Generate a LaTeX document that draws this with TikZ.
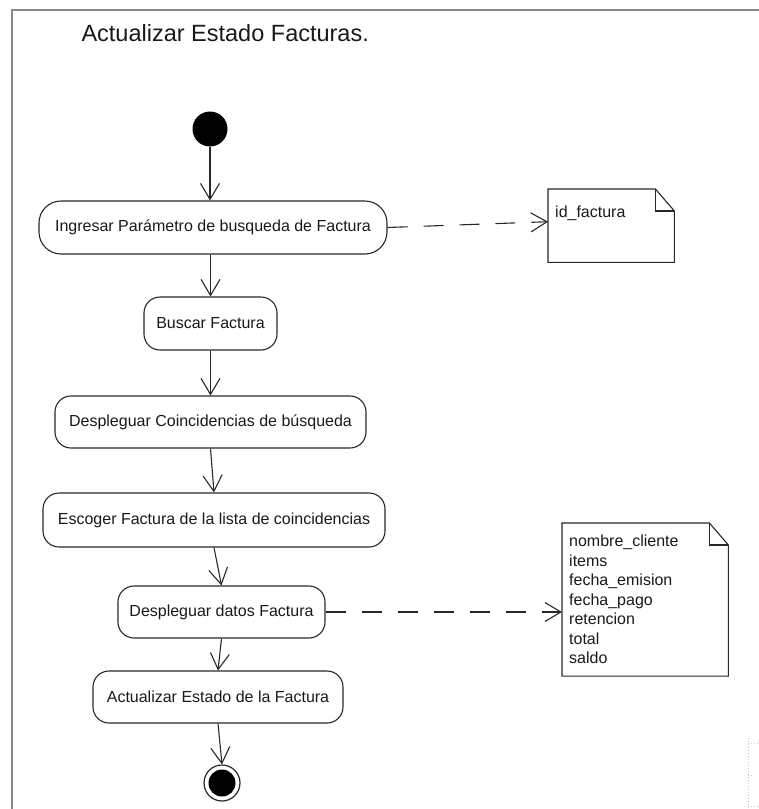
\documentclass[tikz,border=0pt]{standalone}
\usepackage{fontspec}
\setmainfont{Liberation Sans}
\usetikzlibrary{arrows.meta}
\definecolor{marco}{RGB}{138,138,138}
\definecolor{trazo}{RGB}{40,40,40}
% hoja de nota con la esquina doblada
\newcommand{\doblez}[1]{%
	\draw[borde] (#1.south west) -- (#1.north west) -- ([xshift=-19pt]#1.north east)
		-- ([yshift=-22pt]#1.north east) -- (#1.south east) -- cycle;
	\draw[borde] ([xshift=-19pt]#1.north east) |- ([yshift=-22pt]#1.north east);}

\begin{document}
\begin{tikzpicture}[x=1pt,y=-1pt,
	>={Straight Barb[length=16pt,width=19pt]},
	flujo/.style={->,draw=trazo,line width=1.1pt},
	depende/.style={->,draw=trazo,line width=1.1pt,dash pattern=on 20pt off 16pt},
	borde/.style={draw=trazo,line width=1.1pt},
	accion/.style={draw=trazo,line width=1.1pt,rounded corners=16pt,minimum height=53pt,
		inner sep=0pt,font=\fontsize{16}{19.5}\selectfont,text=black!90},
	nota/.style={anchor=north west,align=left,inner xsep=7pt,inner ysep=12pt,
		font=\fontsize{16}{19.5}\selectfont,text=black!90},
	inicio/.style={circle,fill=black,minimum size=35pt,inner sep=0pt},
	fin/.style={circle,draw=trazo,line width=1.2pt,fill=white,minimum size=36pt,inner sep=0pt,
		path picture={\fill[black] (path picture bounding box.center) circle (13.5pt);}}]
	\useasboundingbox (0,0) rectangle (759,809);
	\draw[marco,line width=2pt] (12,809) -- (12,10) -- (759,10);
	\draw[black!20,dotted,line width=1pt] (748,738) -- (748,809)
		(748,743) -- (758,743) (748,775) -- (753,775) (748,806) -- (758,806);

	\node[anchor=base west,font=\fontsize{23.5}{28}\selectfont,text=black!90] (titulo) at (78,41) {Actualizar Estado Facturas.};

	\node[inicio] (ini) at (210,129) {};
	\node[accion,minimum width=348pt,rounded corners=22pt] (ingresar) at (213,227.5) {Ingresar Parámetro de busqueda de Factura};
	\node[accion,minimum width=133pt] (buscar) at (210.5,323.5) {Buscar Factura};
	\node[accion,minimum width=311pt,minimum height=52pt] (coincid) at (210.5,422) {Despleguar Coincidencias de búsqueda};
	\node[accion,minimum width=342pt,minimum height=54pt] (escoger) at (214,520) {Escoger Factura de la lista de coincidencias};
	\node[accion,minimum width=207pt,minimum height=52pt] (datos) at (221.5,612) {Despleguar datos Factura};
	\node[accion,minimum width=250pt,minimum height=52pt] (actualizar) at (218,697) {Actualizar Estado de la Factura};
	\node[fin] (final) at (222,783) {};

	\node[nota,text width=112pt,text height=16pt,text depth=33pt] (idfac) at (548,189) {id\_factura};
	\node[nota,text width=152pt] (datosnota) at (562,523) {nombre\_cliente\\items\\fecha\_emision\\fecha\_pago\\retencion\\total\\saldo};
	\doblez{idfac}
	\doblez{datosnota}

	\draw[flujo] (ini) -- (ini |- ingresar.north);
	\draw[flujo] (ingresar.south -| buscar.north) -- (buscar.north);
	\draw[flujo] (buscar.south) -- (coincid.north);
	\draw[flujo] (coincid.south) -- (escoger.north);
	\draw[flujo] (escoger.south) -- (datos.north);
	\draw[flujo] (datos.south) -- (actualizar.north);
	\draw[flujo] (actualizar.south) -- (final.north);

	\draw[depende] (ingresar.east) -- ([yshift=4pt]idfac.west);
	\draw[depende] (datos.east) -- (datos.east -| datosnota.west);
\end{tikzpicture}
\end{document}
